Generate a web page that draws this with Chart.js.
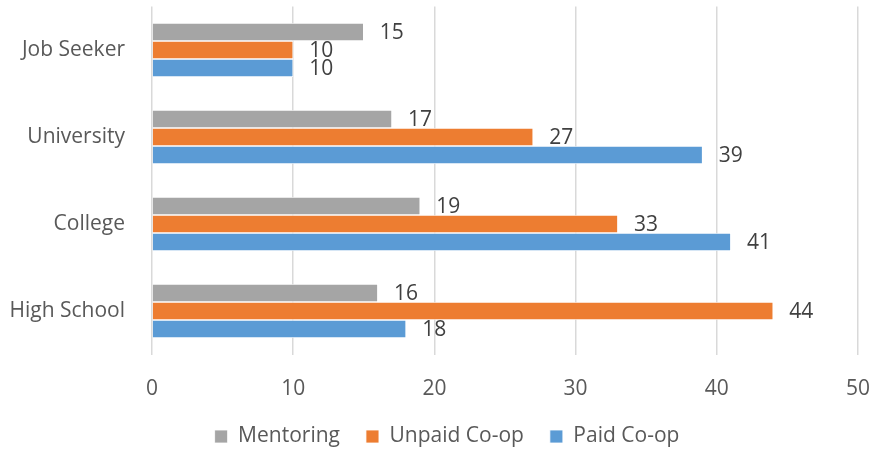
<!DOCTYPE html>
<html>
<head>
<meta charset="utf-8">
<script src="https://cdn.jsdelivr.net/npm/chart.js@4"></script>
<style>
  html, body { margin: 0; padding: 0; background: #fff; }
  #wrap { width: 873px; height: 454px; }
</style>
</head>
<body>
<div id="wrap"><canvas id="chart" width="873" height="454"></canvas></div>
<script>
const categories = ['Job Seeker', 'University', 'College', 'High School'];
const mentoring = [15, 17, 19, 16];
const unpaidCoop = [10, 27, 33, 44];
const paidCoop = [10, 39, 41, 18];
const xTicks = [0, 10, 20, 30, 40, 50];

const FONT = 'Open Sans';

// value labels to the right of each bar
const valueLabels = {
    id: 'valueLabels',
    afterDatasetsDraw(chart) {
        const ctx = chart.ctx;
        ctx.save();
        ctx.font = '21px "' + FONT + '"';
        ctx.fillStyle = '#404040';
        ctx.textAlign = 'left';
        ctx.textBaseline = 'middle';
        chart.data.datasets.forEach((ds, i) => {
            chart.getDatasetMeta(i).data.forEach((el, j) => {
                ctx.fillText(ds.data[j], el.x + 16, el.y + 1);
            });
        });
        ctx.restore();
    }
};

// keep the legend band short and nudge it like the original
const legendHeight = {
    id: 'legendHeight',
    beforeLayout(chart) {
        const lg = chart.legend;
        if (lg && !lg._fixed) {
            const fit = lg.fit.bind(lg);
            lg.fit = function() { fit(); this.height = 57; };
            lg._fixed = true;
        }
    },
    afterLayout(chart) {
        const lg = chart.legend;
        if (!lg) return;
        lg.left += 18; lg.right += 18;
        lg.top += 3; lg.bottom += 3;
    }
};

new Chart(document.getElementById('chart'), {
    type: 'bar',
    data: {
        labels: categories,
        datasets: [
            { label: 'Mentoring', data: mentoring, backgroundColor: '#A5A5A5' },
            { label: 'Unpaid Co-op', data: unpaidCoop, backgroundColor: '#ED7D31' },
            { label: 'Paid Co-op', data: paidCoop, backgroundColor: '#5B9BD5' }
        ]
    },
    options: {
        indexAxis: 'y',
        responsive: false,
        animation: false,
        datasets: {
            bar: {
                categoryPercentage: 0.62,
                barPercentage: 1,
                borderWidth: 0.8,
                borderColor: '#ffffff'
            }
        },
        layout: { padding: { top: 6.5, right: 15, bottom: 0, left: 0 } },
        plugins: {
            tooltip: { enabled: false },
            legend: {
                position: 'bottom',
                labels: {
                    boxWidth: 13,
                    boxHeight: 13,
                    padding: 26,
                    color: '#595959',
                    font: { family: FONT, size: 21 }
                }
            }
        },
        scales: {
            x: {
                min: 0,
                max: 50,
                afterBuildTicks: s => { s.ticks = xTicks.map(v => ({ value: v })); },
                afterFit: s => {
                    s.height = 42.5;
                    s.paddingLeft = 0;
                    s.paddingRight = 0;
                },
                grid: { color: '#D9D9D9', lineWidth: 1.5, drawTicks: false },
                border: { display: false },
                ticks: {
                    padding: 22,
                    color: '#595959',
                    font: { family: FONT, size: 21 }
                }
            },
            y: {
                afterFit: s => {
                    s.width = 152;
                    s.paddingTop = 0;
                    s.paddingBottom = 0;
                },
                grid: { display: false, drawTicks: false },
                border: { display: false },
                ticks: {
                    padding: 27,
                    color: '#595959',
                    font: { family: FONT, size: 21 }
                }
            }
        }
    },
    plugins: [valueLabels, legendHeight]
});
</script>
</body>
</html>
